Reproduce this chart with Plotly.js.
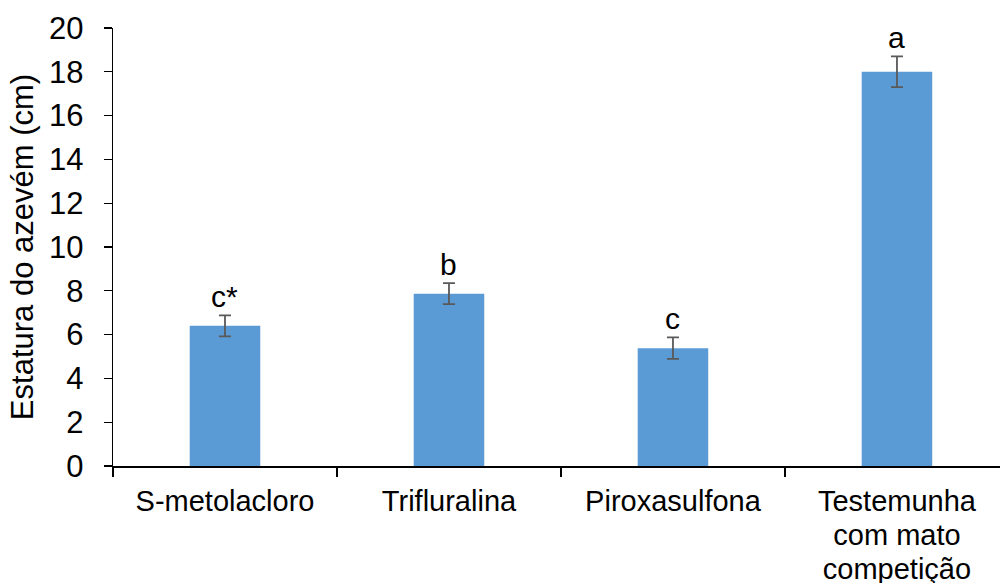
<!DOCTYPE html>
<html>
<head>
<meta charset="utf-8">
<script src="https://cdn.plot.ly/plotly-3.0.1.min.js"></script>
<style>
  html, body { margin: 0; padding: 0; overflow: hidden; background: #fff; }
  #chart { width: 1000px; height: 583px; }
</style>
</head>
<body>
<div id="chart"></div>
<script>
// ---- data ----
var categories = ["S-metolacloro", "Trifluralina", "Piroxasulfona", "Testemunha<br>com mato<br>competição"];
var means = [6.4, 7.87, 5.38, 18.0];
var errors = [0.48, 0.48, 0.49, 0.7];
var letters = ["c*", "b", "c", "a"];
var yTicks = [0, 2, 4, 6, 8, 10, 12, 14, 16, 18, 20];

var FONT = '"Liberation Sans", Arial, sans-serif';

var trace = {
  type: 'bar',
  x: categories,
  y: means,
  width: 0.315,
  marker: { color: '#5B9BD5' },
  error_y: { type: 'data', array: errors, visible: true, color: '#595959', thickness: 1.8, width: 6 },
  hoverinfo: 'skip'
};

var annotations = categories.map(function (c, i) {
  return {
    x: c, y: means[i] + errors[i], xref: 'x', yref: 'y',
    text: letters[i], showarrow: false, yanchor: 'bottom', xanchor: 'center',
    font: { family: FONT, size: 30, color: '#000' }
  };
});

var layout = {
  width: 1000, height: 583,
  margin: { l: 113, r: 0, t: 28, b: 117 },
  paper_bgcolor: '#fff', plot_bgcolor: '#fff',
  showlegend: false,
  font: { family: FONT, color: '#000' },
  xaxis: {
    type: 'category',
    range: [-0.5, 3.46],
    tickson: 'boundaries',
    ticks: 'outside', ticklen: 9, tickwidth: 1.3, tickcolor: '#000',
    showline: true, linecolor: '#000', linewidth: 2,
    showgrid: false, zeroline: false,
    ticklabelstandoff: 8,
    tickfont: { family: FONT, size: 29, color: '#000' },
    automargin: false
  },
  yaxis: {
    range: [0, 20],
    tickvals: yTicks,
    ticktext: yTicks.map(String),
    ticks: 'outside', ticklen: 8, tickwidth: 1.3, tickcolor: '#000',
    showline: true, linecolor: '#000', linewidth: 1.3,
    showgrid: false, zeroline: false,
    ticklabelstandoff: 14,
    tickfont: { family: FONT, size: 31, color: '#000' },
    title: { text: 'Estatura do azevém (cm)', font: { family: FONT, size: 31, color: '#000' }, standoff: 6 },
    automargin: false
  },
  annotations: annotations
};

Plotly.newPlot('chart', [trace], layout, { staticPlot: true, displayModeBar: false }).then(function (gd) {
  var texts = gd.querySelectorAll('.xtick text');
  texts.forEach(function (t) {
    var lines = t.querySelectorAll('tspan.line');
    lines.forEach(function (ln, i) { ln.setAttribute('dy', (i * 1.17) + 'em'); });
  });
});
</script>
</body>
</html>
